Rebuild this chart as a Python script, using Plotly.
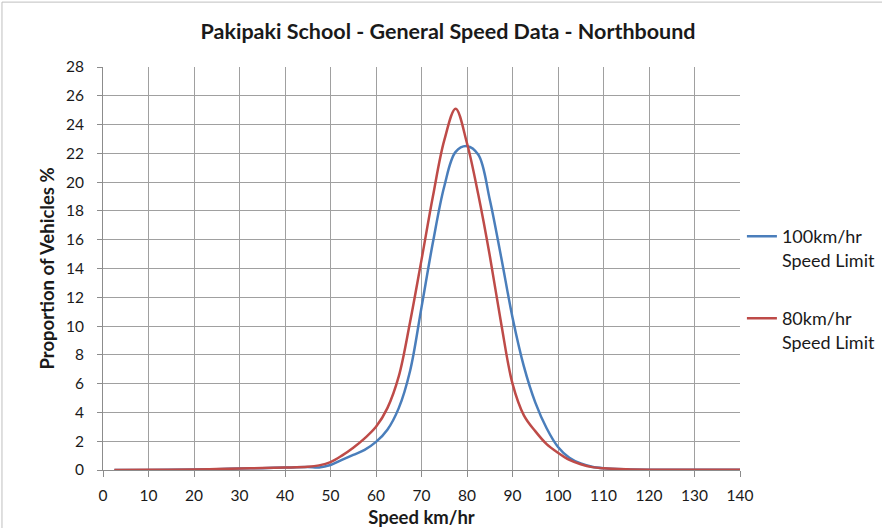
import plotly.graph_objects as go

# speed bins (km/hr) and proportion of vehicles (%)
speed = [2.5, 10, 20, 25, 30, 35, 40, 45, 47.5, 50, 52.5, 55, 57.5, 60, 62.5,
         65, 67.5, 70, 72.5, 75, 77.5, 80, 82.5, 85, 87.5, 90, 92.5, 95, 97.5,
         100, 102.5, 105, 107.5, 110, 115, 120, 130, 140]

limit_100 = [0.0, 0.0, 0.03, 0.06, 0.1, 0.13, 0.17, 0.2, 0.18, 0.35, 0.7, 1.05,
             1.4, 1.95, 2.8, 4.3, 6.9, 11.3, 15.8, 19.7, 22.1, 22.5, 21.9, 18.8,
             14.8, 10.6, 7.2, 4.7, 2.9, 1.6, 0.85, 0.45, 0.22, 0.12, 0.05, 0.02,
             0.01, 0.01]

limit_80 = [0.0, 0.01, 0.04, 0.07, 0.1, 0.14, 0.17, 0.22, 0.32, 0.55, 1.0, 1.55,
            2.2, 3.0, 4.3, 6.5, 10.3, 14.6, 19.0, 22.9, 25.1, 22.7, 19.1, 14.9,
            10.2, 6.0, 3.8, 2.7, 1.8, 1.2, 0.7, 0.4, 0.2, 0.12, 0.05, 0.02,
            0.01, 0.01]

x_ticks = list(range(0, 141, 10))
y_ticks = list(range(0, 29, 2))

theme = {"text": "#1a1a1a", "grid": "#a0a0a0", "axis": "#8c8c8c"}
font_family = "Lato, 'Open Sans', sans-serif"

fig = go.Figure()
fig.add_trace(go.Scatter(
    x=speed, y=limit_100, mode="lines", name="100km/hr<br>Speed Limit",
    line=dict(color="#4A7EBB", width=2.5, shape="spline", smoothing=1),
    legendgroup="a",
))
fig.add_trace(go.Scatter(
    x=speed, y=limit_80, mode="lines", name="80km/hr<br>Speed Limit",
    line=dict(color="#BE4B48", width=2.5, shape="spline", smoothing=1),
    legendgroup="b",
))

fig.update_layout(
    width=882,
    height=528,
    paper_bgcolor="white",
    plot_bgcolor="white",
    font=dict(family=font_family, color=theme["text"], size=15.5),
    margin=dict(l=103, r=142, t=67, b=58, autoexpand=False),
    title=dict(
        text="<b>Pakipaki School - General Speed Data - Northbound</b>",
        x=0.508, xref="container", xanchor="center",
        y=0.94, yref="container", yanchor="middle",
        font=dict(size=21.5),
    ),
    xaxis=dict(
        range=[0, 140], tickvals=x_ticks, showgrid=True, gridcolor=theme["grid"],
        showline=True, linecolor=theme["axis"], ticks="outside", ticklen=6,
        tickcolor=theme["axis"], zeroline=False, ticklabelstandoff=5,
        automargin=False,
        title=dict(text="<b>Speed km/hr</b>", standoff=8, font=dict(size=18.5)),
    ),
    yaxis=dict(
        range=[0, 28], tickvals=y_ticks, showgrid=True, gridcolor=theme["grid"],
        showline=True, linecolor=theme["axis"], ticks="outside", ticklen=5,
        tickcolor=theme["axis"], zeroline=False, ticklabelstandoff=10,
        automargin=False,
        title=dict(text="<b>Proportion of Vehicles %</b>", standoff=6, font=dict(size=18.5)),
    ),
    legend=dict(
        x=1.003, xanchor="left", y=0.625, yanchor="top",
        valign="top", itemwidth=30, tracegroupgap=32,
        font=dict(size=18), bgcolor="rgba(0,0,0,0)",
    ),
    shapes=[dict(
        type="rect", xref="paper", yref="paper",
        x0=-0.1586, x1=1.25, y0=-0.3, y1=1.161,
        line=dict(color="#bfbfbf", width=1), layer="below",
    )],
)

fig.write_html("out.html", config={"displayModeBar": False},
               post_script="document.body.style.margin='0';")
